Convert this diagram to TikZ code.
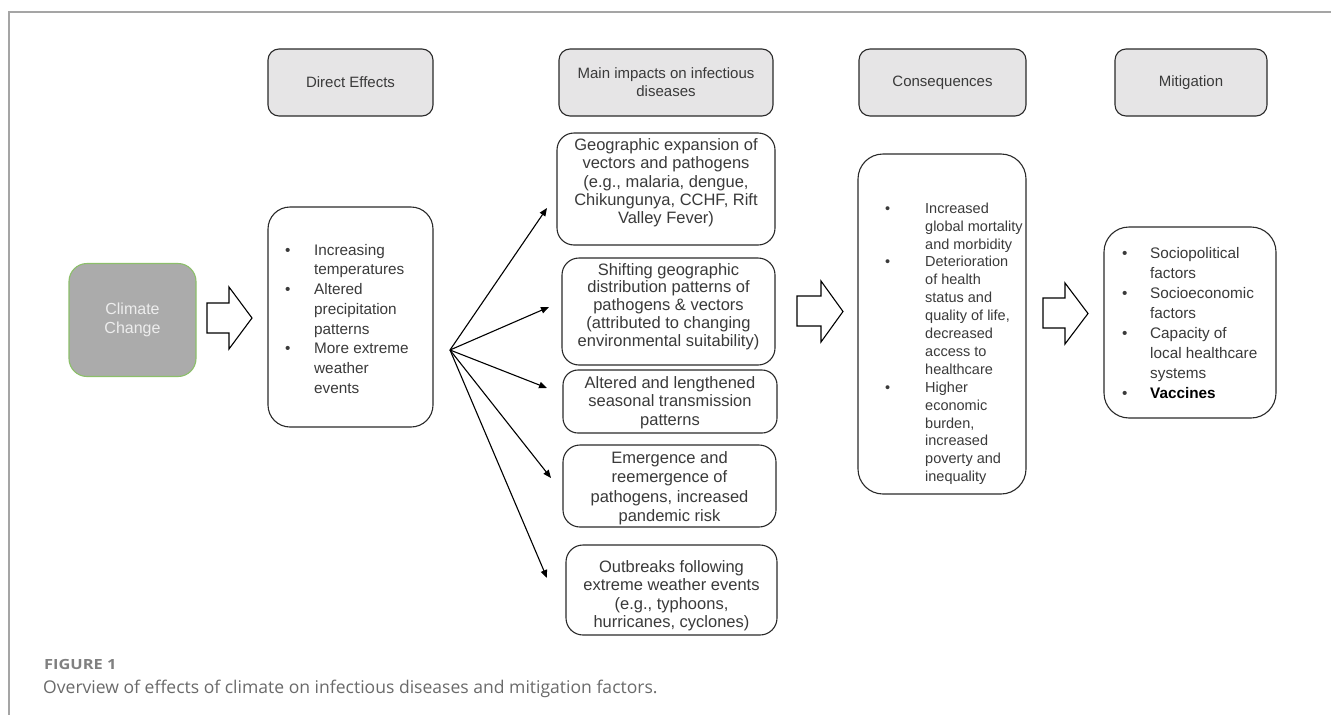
\documentclass[tikz,border=0pt]{standalone}
\usepackage{fontspec}
\usepackage{graphicx}
\setmainfont{Liberation Sans}
\newfontfamily\capfont{Open Sans}
\usetikzlibrary{arrows.meta}
\definecolor{hdrfill}{HTML}{E6E5E6}
\definecolor{boxline}{HTML}{2A2A2A}
\definecolor{tgray}{HTML}{3A3A3A}
\definecolor{ccfill}{HTML}{ABABAB}
\definecolor{ccline}{HTML}{8CBF6A}
\definecolor{cctext}{HTML}{EDEDED}
\definecolor{framegray}{HTML}{A5A5A5}
\definecolor{capgrayA}{HTML}{808080}
\definecolor{capgrayB}{HTML}{6A6A6A}
\newcommand\mybul[1]{\makebox[#1][l]{\textbullet}}
\newcommand\myskip[1]{\hspace*{#1}}
\tikzset{
  hdr/.style={draw=boxline, fill=hdrfill, line width=1.1pt, rounded corners=11pt,
    inner sep=0, align=center, text=tgray, font={\fontsize{15}{18}\selectfont}},
  wbox/.style={draw=boxline, fill=white, line width=1.1pt, inner sep=0},
  txt/.style={inner sep=0, text=tgray},
  fanarr/.style={-{Triangle[length=8pt,width=6.5pt]}, line width=1.1pt, black},
  blockarr/.style={draw=black, fill=white, line width=1.1pt, line join=miter},
}
\begin{document}
\begin{tikzpicture}[x=1pt,y=-1pt]
\useasboundingbox (0,0) rectangle (1331,715);
% frame
\draw[framegray, line width=1.2pt] (9,715) -- (9,12) -- (1331,12);

% headers
\node[hdr, minimum width=165, minimum height=67] (h1) at (350.5,82.5) {Direct Effects};
\node[hdr, minimum width=214, minimum height=67] (h2) at (666,82.5) {Main impacts on infectious\\diseases};
\node[hdr, minimum width=167, minimum height=67] (h3) at (942.5,82.5) {Consequences};
\node[hdr, minimum width=152, minimum height=67] (h4) at (1191,82.5) {Mitigation};

% climate change
\node[draw=ccline, fill=ccfill, line width=1.1pt, rounded corners=18pt, minimum width=127, minimum height=113,
  inner sep=0, align=center, text=cctext, font={\fontsize{16}{19}\selectfont}] (cc) at (132.5,320) {Climate\\Change};

% direct effects box
\node[wbox, rounded corners=22pt, minimum width=165, minimum height=220] (de) at (350.5,317) {};
\node[txt, anchor=north west, align=left, font={\fontsize{15.3}{19.7}\selectfont}] (detxt) at (285,244)
 {\mybul{29pt}Increasing\\ \myskip{29pt}temperatures\\ \mybul{29pt}Altered\\ \myskip{29pt}precipitation\\
  \myskip{29pt}patterns\\ \mybul{29pt}More extreme\\ \myskip{29pt}weather\\ \myskip{29pt}events};

% fan arrows
\coordinate (fan) at (450,350);
\coordinate (t1) at (547,208);
\coordinate (t2) at (549,307);
\coordinate (t3) at (547,388);
\coordinate (t4) at (551,478);
\coordinate (t5) at (547,578);
\foreach \t in {t1,t2,t3,t4,t5} \draw[fanarr] (fan) -- (\t);

% impact boxes
\node[wbox, rounded corners=17pt, minimum width=218, minimum height=112] (b1) at (666,189) {};
\node[wbox, rounded corners=17pt, minimum width=213, minimum height=107] (b2) at (668.5,311.5) {};
\node[wbox, rounded corners=15pt, minimum width=214, minimum height=63] (b3) at (670,401.5) {};
\node[wbox, rounded corners=17pt, minimum width=213, minimum height=82] (b4) at (669.5,486) {};
\node[wbox, rounded corners=17pt, minimum width=211, minimum height=90] (b5) at (671.5,590) {};

\node[txt, anchor=north, align=center, font={\fontsize{16.5}{18.3}\selectfont}] (b1t) at (666,138.5)
 {Geographic expansion of\\vectors and pathogens\\(e.g., malaria, dengue,\\Chikungunya, CCHF, Rift\\Valley Fever)};
\node[txt, anchor=north, align=center, font={\fontsize{16.5}{17.8}\selectfont}] (b2t) at (668.5,263)
 {Shifting geographic\\distribution patterns of\\pathogens \& vectors\\(attributed to changing\\environmental suitability)};
\node[txt, anchor=north, align=center, font={\fontsize{16.5}{18.5}\selectfont}] (b3t) at (670,376)
 {Altered and lengthened\\seasonal transmission\\patterns};
\node[txt, anchor=north, align=center, font={\fontsize{16.5}{19.5}\selectfont}] (b4t) at (669.5,451)
 {Emergence and\\reemergence of\\pathogens, increased\\pandemic risk};
\node[txt, anchor=north, align=center, font={\fontsize{16.5}{18.6}\selectfont}] (b5t) at (671.5,560)
 {Outbreaks following\\extreme weather events\\(e.g., typhoons,\\hurricanes, cyclones)};

% consequences
\node[wbox, rounded corners=25pt, minimum width=168, minimum height=340] (co) at (942,324) {};
\node[txt, anchor=north west, align=left, font={\fontsize{14.5}{17.9}\selectfont}] (cotxt) at (885,202.5)
 {\mybul{40pt}Increased\\ \myskip{40pt}global mortality\\ \myskip{40pt}and morbidity\\
  \mybul{40pt}Deterioration\\ \myskip{40pt}of health\\ \myskip{40pt}status and\\ \myskip{40pt}quality of life,\\
  \myskip{40pt}decreased\\ \myskip{40pt}access to\\ \myskip{40pt}healthcare\\
  \mybul{40pt}Higher\\ \myskip{40pt}economic\\ \myskip{40pt}burden,\\ \myskip{40pt}increased\\
  \myskip{40pt}poverty and\\ \myskip{40pt}inequality};

% mitigation
\node[wbox, rounded corners=25pt, minimum width=172, minimum height=191] (mi) at (1190,322.5) {};
\node[txt, anchor=north west, align=left, font={\fontsize{15.3}{20}\selectfont}] (mitxt) at (1122,247.5)
 {\mybul{28pt}Sociopolitical\\ \myskip{28pt}factors\\ \mybul{28pt}Socioeconomic\\ \myskip{28pt}factors\\
  \mybul{28pt}Capacity of\\ \myskip{28pt}local healthcare\\ \myskip{28pt}systems\\
  \mybul{28pt}\textcolor{black}{\bfseries Vaccines}};

% block arrows
\draw[blockarr] (207,303) -- (229,303) -- (229,287) -- (252,318) -- (229,349) -- (229,333) -- (207,333) -- cycle;
\draw[blockarr] (797,296) -- (821,296) -- (821,281) -- (843,311.5) -- (821,342) -- (821,326) -- (797,326) -- cycle;
\draw[blockarr] (1043,298) -- (1065,298) -- (1065,283) -- (1088,313.5) -- (1065,344) -- (1065,328) -- (1043,328) -- cycle;

% caption
\node[anchor=base west, inner sep=0, text=capgrayA, font={\capfont\bfseries\fontsize{14}{16}\selectfont}] (figlbl) at (44,669) {\scalebox{1.17}[1]{FIGURE 1}};
\node[anchor=base west, inner sep=0, text=capgrayB, font={\capfont\fontsize{17.55}{20}\selectfont}] (figcap) at (43,693)
 {Overview of effects of climate on infectious diseases and mitigation factors.};
\end{tikzpicture}
\end{document}
